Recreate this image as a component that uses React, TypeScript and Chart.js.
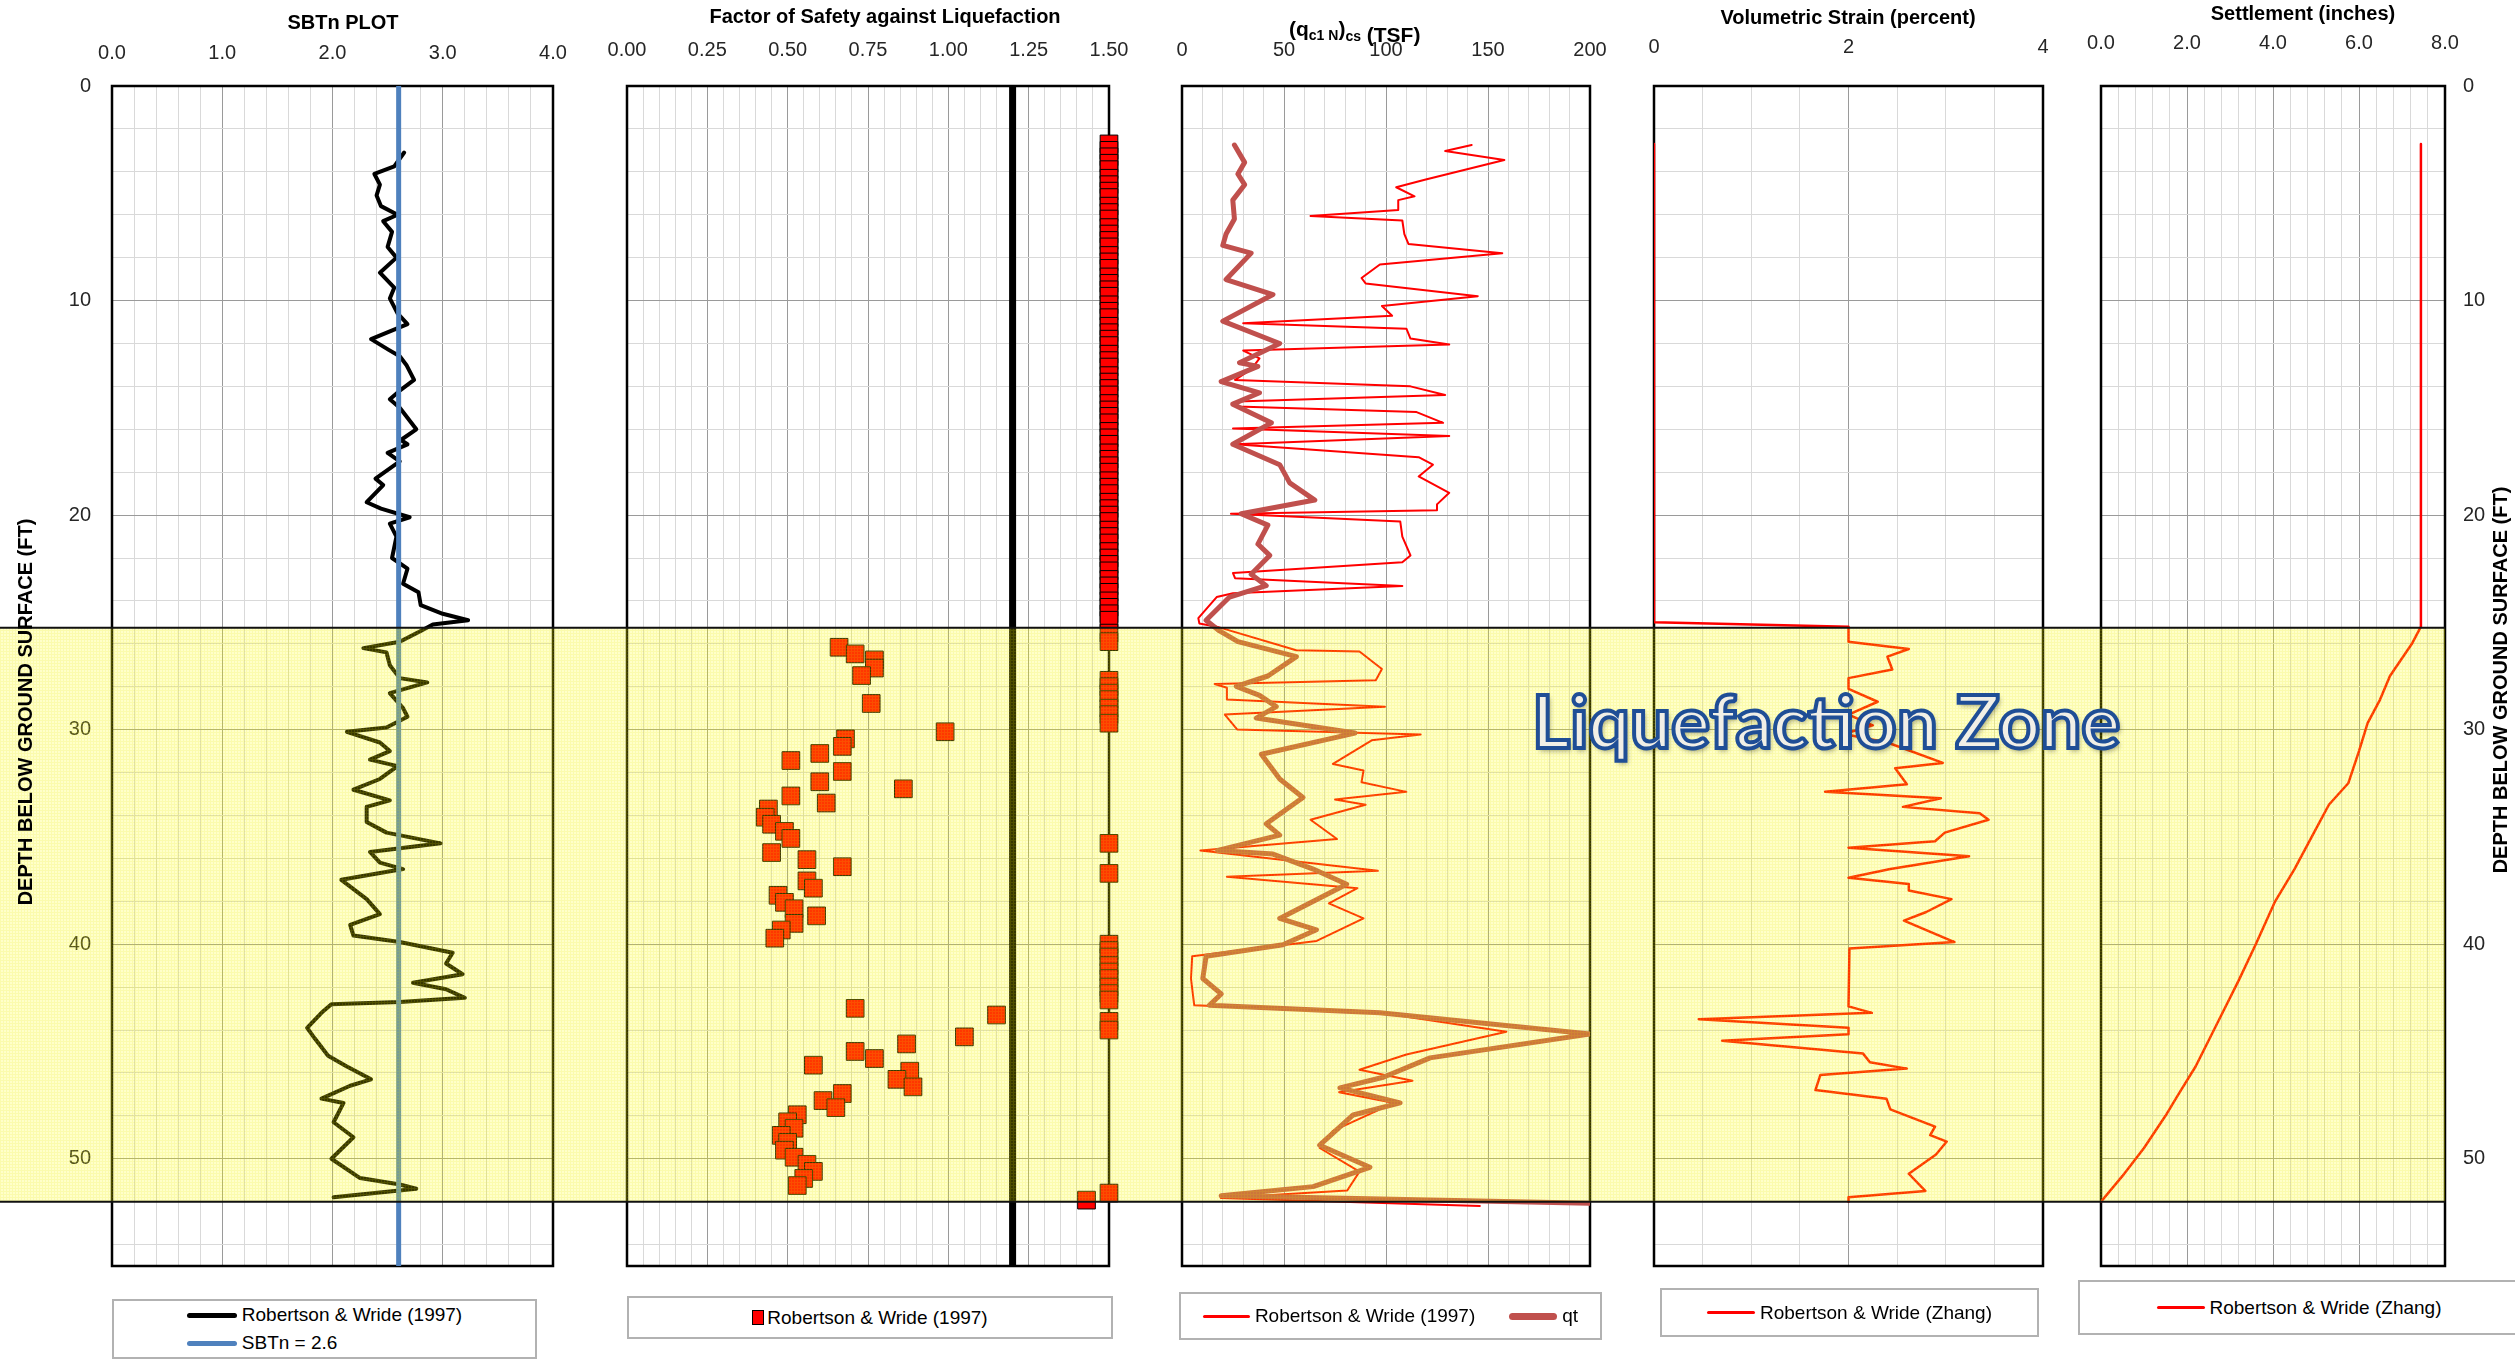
import React, { useEffect, useRef } from "react";
import { Chart, registerables } from "chart.js";

Chart.register(...registerables);

// ---------------- DATA ----------------
const DEPTH_TICKS = ["0", "10", "20", "30", "40", "50"];
const SBTN_TICKS = ["0.0", "1.0", "2.0", "3.0", "4.0"];
const FS_TICKS = ["0.00", "0.25", "0.50", "0.75", "1.00", "1.25", "1.50"];
const QC_TICKS = ["0", "50", "100", "150", "200"];
const STRAIN_TICKS = ["0", "2", "4"];
const SETTLE_TICKS = ["0.0", "2.0", "4.0", "6.0", "8.0"];

const ZONE_TOP = 25.25;
const ZONE_BOTTOM = 52.0;

const SBTN_LIMIT = 2.6;
const SBTN_DEPTH = [3.1,3.75,4.1,4.6,5.1,5.6,6.0,6.3,6.8,7.5,8.0,8.7,9.4,9.9,10.6,11.1,11.8,12.3,12.6,13.0,13.7,14.2,14.6,15.0,16.0,16.5,16.7,17.1,17.5,18.3,18.6,19.4,19.7,20.1,20.4,21.0,22.0,22.5,23.2,23.6,24.2,24.6,24.9,25.1,25.4,25.9,26.2,26.4,27.0,27.6,27.8,28.3,29.0,29.4,29.9,30.1,30.6,31.0,31.4,31.7,32.3,32.8,33.3,33.6,34.3,34.8,35.3,35.7,36.2,36.5,37.0,37.9,38.6,39.1,39.6,39.9,40.4,40.9,41.4,41.8,42.1,42.5,42.7,42.8,43.2,43.9,44.4,45.2,45.7,46.3,46.6,47.2,47.4,48.3,49.0,50.0,50.9,51.2,51.4,51.8];
const SBTN_VALUE = [2.65,2.56,2.38,2.43,2.40,2.44,2.59,2.46,2.54,2.50,2.58,2.43,2.56,2.52,2.59,2.68,2.35,2.51,2.61,2.67,2.74,2.61,2.52,2.61,2.76,2.62,2.68,2.50,2.61,2.39,2.46,2.31,2.44,2.70,2.52,2.58,2.54,2.68,2.64,2.78,2.80,3.00,3.23,2.91,2.80,2.61,2.28,2.49,2.52,2.61,2.86,2.52,2.64,2.68,2.49,2.13,2.43,2.52,2.34,2.59,2.43,2.19,2.52,2.31,2.31,2.49,2.98,2.34,2.43,2.64,2.08,2.31,2.43,2.16,2.19,2.61,3.09,3.03,3.18,2.73,3.03,3.20,2.61,1.99,1.90,1.77,1.84,1.96,2.13,2.35,2.16,1.90,2.10,2.01,2.19,1.99,2.25,2.61,2.76,2.01];

const FS_LIMIT = 1.2;
const FS_CAP_DEPTH = [2.7,3.0,3.3,3.6,3.9,4.3,4.6,4.9,5.2,5.6,5.9,6.2,6.6,6.9,7.2,7.5,7.9,8.2,8.5,8.9,9.2,9.5,9.8,10.2,10.5,10.8,11.2,11.5,11.8,12.1,12.5,12.8,13.1,13.5,13.8,14.1,14.4,14.8,15.1,15.4,15.7,16.1,16.4,16.7,17.1,17.4,17.7,18.0,18.4,18.7,19.0,19.4,19.7,20.0,20.3,20.7,21.0,21.3,21.7,22.0,22.3,22.6,23.0,23.3,23.6,24.0,24.3,24.6,24.9];
const FS_CAP_VALUE = [1.5,1.5,1.5,1.5,1.5,1.5,1.5,1.5,1.5,1.5,1.5,1.5,1.5,1.5,1.5,1.5,1.5,1.5,1.5,1.5,1.5,1.5,1.5,1.5,1.5,1.5,1.5,1.5,1.5,1.5,1.5,1.5,1.5,1.5,1.5,1.5,1.5,1.5,1.5,1.5,1.5,1.5,1.5,1.5,1.5,1.5,1.5,1.5,1.5,1.5,1.5,1.5,1.5,1.5,1.5,1.5,1.5,1.5,1.5,1.5,1.5,1.5,1.5,1.5,1.5,1.5,1.5,1.5,1.5];
const FS_ZONE_DEPTH = [25.5,25.9,26.16,26.47,26.75,27.13,27.48,27.7,28.0,28.3,28.6,28.78,29.0,29.3,29.7,30.10,30.43,30.78,31.11,31.44,31.95,32.43,32.76,33.09,33.42,33.70,34.08,34.41,34.74,35.07,35.3,35.73,36.06,36.39,36.7,37.05,37.39,37.72,38.05,38.35,38.68,39.03,39.34,39.72,40.0,40.3,40.6,41.0,41.3,41.6,42.0,42.3,42.6,42.99,43.30,43.6,44.0,44.32,44.65,45.00,45.33,45.64,45.92,46.30,46.65,46.96,47.29,47.62,47.95,48.28,48.58,48.91,49.24,49.60,49.93,50.26,50.59,50.92,51.25,51.6,51.93];
const FS_ZONE_VALUE = [1.5,1.5,0.66,0.71,0.77,0.77,0.73,1.5,1.5,1.5,1.5,0.76,1.5,1.5,1.5,0.99,0.68,0.67,0.60,0.51,0.67,0.60,0.86,0.51,0.62,0.44,0.43,0.45,0.49,0.51,1.5,0.45,0.56,0.67,1.5,0.56,0.58,0.47,0.49,0.52,0.59,0.52,0.48,0.46,1.5,1.5,1.5,1.5,1.5,1.5,1.5,1.5,1.5,0.71,1.15,1.5,1.5,1.05,0.87,0.71,0.77,0.58,0.88,0.84,0.89,0.67,0.61,0.65,0.53,0.50,0.52,0.48,0.50,0.49,0.52,0.56,0.58,0.55,0.53,1.5,1.43];

const QC_DEPTH = [2.75,3.03,3.45,4.37,4.72,5.14,5.32,5.78,6.06,6.27,6.9,7.36,7.79,8.32,8.95,9.2,9.8,10.25,10.71,11.06,11.31,11.77,12.05,12.33,12.7,13.2,13.7,14.0,14.4,14.7,14.94,15.2,15.7,15.96,16.31,16.7,17.3,17.65,18.2,18.96,19.5,19.77,19.94,20.3,21.0,21.88,22.2,22.7,22.94,23.3,23.64,23.82,24.8,25.05,25.2,26.3,26.36,27.17,27.7,27.87,28.05,28.6,28.93,29.3,29.99,30.23,30.5,31.6,31.9,32.45,32.9,33.26,33.5,34.2,35.1,35.63,36.58,36.86,37.39,38.1,38.8,39.85,40.56,41.6,42.85,43.2,44.08,45.14,45.85,46.37,46.9,47.4,48.7,49.5,50.6,51.48,51.83,52.2];
const QC_VALUE = [142,129,158,119,105,114,106,106,63,108,109,111,157,97,88,90,145,98,103,30,110,112,131,30,38,34,26,112,129,27,27,115,128,25,131,26,116,123,116,131,125,125,24,107,108,112,108,25,26,108,25,17,8,8.5,17,56,87,98,95,16,22,22,99.5,21,27,117,93,74,89,88,110,75,90,63,76,9,96,22,86,72,89,66,5,4.4,6,97,159,110,87,113,77,104,74,67.5,87,81,19,146];
const QT_DEPTH = [2.75,3.56,4.1,4.6,5.32,6.2,6.9,7.43,7.79,9.02,9.72,10.96,12.0,12.9,13.07,13.78,14.3,14.83,15.7,16.7,17.65,18.5,19.3,19.94,20.47,21.35,21.88,22.76,23.29,23.82,24.9,25.4,25.9,26.6,27.5,27.98,28.4,28.93,29.46,30.16,31.15,32.3,33.16,34.39,34.92,35.63,35.8,36.5,37.21,38.8,39.33,40.03,40.56,41.6,42.32,42.85,43.2,44.19,45.3,46.2,46.7,47.4,47.96,49.37,50.4,51.3,51.73,52.08];
const QT_VALUE = [25.7,30.7,27.4,30.7,24.9,25.7,21.6,20,33.9,21.6,44.6,20,47.9,28.2,37.2,19.2,38,24.9,43.8,24.9,47.9,52.8,65.1,29,42.1,37.2,43,33.9,41.3,23.3,11.8,18.4,27.4,56.1,42.1,26.6,38,46.2,36.4,84.8,38.9,47.9,59.3,41.3,47.9,17.5,44.6,64.3,80.7,47.9,65.9,49.5,11.8,10.2,19.2,13.4,97,200,121.6,98.7,77.4,106.9,83.9,67.5,92.1,64.3,19.2,200];

const STRAIN_DEPTH = [2.7,25.0,25.2,25.9,26.24,26.6,27.2,27.6,28.1,28.7,29.3,29.8,30.2,30.6,31.55,31.8,32.55,32.9,33.2,33.6,33.9,34.2,34.8,35.2,35.5,35.9,36.5,36.9,37.2,37.5,37.9,38.5,38.9,39.9,40.2,42.9,43.2,43.5,43.9,44.2,44.5,45.1,45.5,45.8,46.1,46.8,47.2,47.7,48.5,48.9,49.2,49.8,50.7,51.5,51.8,52.0];
const STRAIN_VALUE = [0,0,2.0,2.0,2.62,2.4,2.45,2.0,2.0,2.3,2.0,2.25,1.95,2.4,2.97,2.48,2.6,1.76,2.95,2.56,3.35,3.44,2.99,2.89,2.0,3.24,2.43,2.0,2.62,2.62,3.06,2.8,2.57,3.09,2.01,2.0,2.24,0.46,2.0,2.0,0.7,2.15,2.22,2.6,1.71,1.66,2.39,2.43,2.89,2.84,3.01,2.9,2.62,2.79,2.0,2.0];

const SETTLE_DEPTH = [2.7,25.2,26.0,27.5,28.6,29.7,31.0,32.5,33.5,35.0,36.5,38.0,40.0,41.7,43.3,44.5,45.7,47.0,48.0,49.5,50.8,52.0];
const SETTLE_VALUE = [7.44,7.44,7.23,6.72,6.49,6.2,6.0,5.75,5.3,4.9,4.5,4.05,3.6,3.2,2.8,2.5,2.2,1.8,1.5,1.0,0.5,0.0];

// ---------------- STYLE / LAYOUT ----------------
const FONT = "'Liberation Sans', Arial, Helvetica, sans-serif";
const CANVAS_H = 1290;
const PLOT_TOP = 86;
const PLOT_BOTTOM = 1266;
const MAJOR_GRID = "#9a9a9a";
const MINOR_GRID = "#d9d9d9";
const TICK_COLOR = "#262626";
const Y_TITLE = "DEPTH BELOW GROUND SURFACE (FT)";

const pts = (depth: number[], value: number[]) => depth.map((d, i) => ({ x: value[i], y: d }));
const isMult = (v: number, s: number) => Math.abs(v / s - Math.round(v / s)) < 1e-6;
const gridValues = (min: number, max: number, step: number) => {
  const out: number[] = [];
  const n = Math.round((max - min) / step);
  for (let i = 0; i <= n; i++) out.push(+(min + i * step).toFixed(6));
  return out;
};

const lineDs = (label: string, data: any[], color: string, width: number, order = 1) => ({
  label, data, showLine: true, borderColor: color, backgroundColor: color, borderWidth: width,
  pointRadius: 0, pointHoverRadius: 0, fill: false, tension: 0, borderJoinStyle: "round", borderCapStyle: "round", order,
});

type PanelCfg = {
  id: string; left: number; width: number; padL: number; padR: number;
  yPos: "left" | "right"; yW: number; yLabels: boolean; yPad: number;
  xMin: number; xMax: number; xStep: number; xMajor: number; xLabels: string[]; xPad: number;
  title?: { text: string; x: number; y: number };
  yTitle?: { x: number; y: number };
  last?: boolean; qcTitle?: boolean;
  datasets: any[];
};

const PANELS: PanelCfg[] = [
  {
    id: "sbtn", left: 0, width: 590, padL: 0, padR: 37, yPos: "left", yW: 112, yLabels: true, yPad: 21,
    xMin: 0, xMax: 4, xStep: 0.2, xMajor: 1, xLabels: SBTN_TICKS, xPad: 21,
    title: { text: "SBTn PLOT", x: 343, y: 23 }, yTitle: { x: 26, y: 712 },
    datasets: [
      lineDs("SBTn = 2.6", [{ x: SBTN_LIMIT, y: 0 }, { x: SBTN_LIMIT, y: 55 }], "#4F81BD", 5, 0),
      lineDs("Robertson & Wride (1997)", pts(SBTN_DEPTH, SBTN_VALUE), "#000000", 4, 1),
    ],
  },
  {
    id: "fs", left: 590, width: 555, padL: 37, padR: 36, yPos: "left", yW: 0, yLabels: false, yPad: 0,
    xMin: 0, xMax: 1.5, xStep: 0.05, xMajor: 0.25, xLabels: FS_TICKS, xPad: 24,
    title: { text: "Factor of Safety against Liquefaction", x: 885, y: 17 },
    datasets: [
      lineDs("FS = 1.2", [{ x: FS_LIMIT, y: 0 }, { x: FS_LIMIT, y: 55 }], "#000000", 7, 2),
      {
        label: "Robertson & Wride (1997)",
        data: [...pts(FS_CAP_DEPTH, FS_CAP_VALUE), ...pts(FS_ZONE_DEPTH, FS_ZONE_VALUE)],
        showLine: false, pointStyle: "rect", pointRadius: 12.5, pointHoverRadius: 12.5,
        backgroundColor: "#FF0000", borderColor: "#000000", borderWidth: 1, order: 0, clip: false,
      },
    ],
  },
  {
    id: "qc", left: 1145, width: 477, padL: 37, padR: 32, yPos: "left", yW: 0, yLabels: false, yPad: 0,
    xMin: 0, xMax: 200, xStep: 10, xMajor: 50, xLabels: QC_TICKS, xPad: 24,
    qcTitle: true,
    datasets: [
      lineDs("qt", pts(QT_DEPTH, QT_VALUE), "#C0504D", 5, 0),
      lineDs("Robertson & Wride (1997)", pts(QC_DEPTH, QC_VALUE), "#FF0000", 2, 1),
    ],
  },
  {
    id: "strain", left: 1622, width: 450, padL: 32, padR: 29, yPos: "left", yW: 0, yLabels: false, yPad: 0,
    xMin: 0, xMax: 4, xStep: 0.5, xMajor: 2, xLabels: STRAIN_TICKS, xPad: 27,
    title: { text: "Volumetric Strain (percent)", x: 1848, y: 18 },
    datasets: [lineDs("Robertson & Wride (Zhang)", pts(STRAIN_DEPTH, STRAIN_VALUE), "#FF0000", 2.5, 0)],
  },
  {
    id: "settle", left: 2072, width: 443, padL: 29, padR: 0, yPos: "right", yW: 70, yLabels: true, yPad: 18,
    xMin: 0, xMax: 8, xStep: 0.4, xMajor: 2, xLabels: SETTLE_TICKS, xPad: 31,
    title: { text: "Settlement (inches)", x: 2303, y: 14 }, yTitle: { x: 2501, y: 680 }, last: true,
    datasets: [lineDs("Robertson & Wride (Zhang)", pts(SETTLE_DEPTH, SETTLE_VALUE), "#FF0000", 2.5, 0)],
  },
];

function makePattern(ctx: CanvasRenderingContext2D) {
  const c = document.createElement("canvas");
  c.width = 3; c.height = 3;
  const p = c.getContext("2d")!;
  p.fillStyle = "rgba(255,255,0,0.21)";
  p.fillRect(0, 0, 3, 3);
  p.fillStyle = "rgba(230,230,0,0.14)";
  p.fillRect(0, 0, 3, 1);
  p.fillRect(0, 1, 1, 2);
  return ctx.createPattern(c, "repeat")!;
}

function noScalePadding(s: any) {
  s.paddingLeft = 0; s.paddingRight = 0; s.paddingTop = 0; s.paddingBottom = 0;
}

function buildConfig(cfg: PanelCfg): any {
  const tickFont = { family: FONT, size: 20 };
  const framePlugin = {
    id: "frame",
    beforeDatasetsDraw(chart: any) {
      const { ctx, chartArea: a } = chart;
      ctx.save();
      ctx.strokeStyle = "#000";
      ctx.lineWidth = 2.5;
      ctx.strokeRect(a.left, a.top, a.right - a.left, a.bottom - a.top);
      ctx.restore();
    },
  };
  const bandPlugin = {
    id: "zone",
    afterDatasetsDraw(chart: any) {
      const { ctx, chartArea } = chart;
      const y = chart.scales.y;
      const t = y.getPixelForValue(ZONE_TOP);
      const b = y.getPixelForValue(ZONE_BOTTOM);
      const x1 = cfg.last ? chartArea.right : chart.width;
      ctx.save();
      ctx.fillStyle = makePattern(ctx);
      ctx.fillRect(0, t, x1, b - t);
      ctx.strokeStyle = "#111";
      ctx.lineWidth = 2;
      ctx.beginPath();
      ctx.moveTo(0, t); ctx.lineTo(x1, t);
      ctx.moveTo(0, b); ctx.lineTo(x1, b);
      ctx.stroke();
      ctx.restore();
    },
  };
  const textPlugin = {
    id: "texts",
    afterDraw(chart: any) {
      const ctx: CanvasRenderingContext2D = chart.ctx;
      ctx.save();
      ctx.fillStyle = "#000";
      if (cfg.title) {
        ctx.font = `bold 20px ${FONT}`;
        ctx.textAlign = "center";
        ctx.textBaseline = "middle";
        ctx.fillText(cfg.title.text, cfg.title.x - cfg.left, cfg.title.y);
      }
      if (cfg.qcTitle) {
        const parts: [string, number, number][] = [
          ["(q", 21, 36], ["c1 N", 14, 40], [")", 21, 36], ["cs", 14, 41], [" (TSF)", 21, 42],
        ];
        let x = 1289 - cfg.left;
        ctx.textAlign = "left";
        ctx.textBaseline = "alphabetic";
        for (const [s, size, base] of parts) {
          ctx.font = `bold ${size}px ${FONT}`;
          ctx.fillText(s, x, base);
          x += ctx.measureText(s).width;
        }
      }
      if (cfg.yTitle) {
        ctx.translate(cfg.yTitle.x - cfg.left, cfg.yTitle.y);
        ctx.rotate(-Math.PI / 2);
        ctx.font = `bold 20px ${FONT}`;
        ctx.textAlign = "center";
        ctx.textBaseline = "middle";
        ctx.fillText(Y_TITLE, 0, 0);
      }
      ctx.restore();
    },
  };

  const xGrid = gridValues(cfg.xMin, cfg.xMax, cfg.xStep);
  const yGrid = gridValues(0, 54, 2);

  return {
    type: "scatter",
    data: { datasets: cfg.datasets },
    options: {
      animation: false,
      responsive: false,
      maintainAspectRatio: false,
      events: [],
      layout: { padding: { left: cfg.padL, right: cfg.padR, top: 0, bottom: CANVAS_H - PLOT_BOTTOM } },
      plugins: { legend: { display: false }, tooltip: { enabled: false }, title: { display: false } },
      scales: {
        x: {
          type: "linear", position: "top", min: cfg.xMin, max: cfg.xMax,
          afterBuildTicks: (s: any) => { s.ticks = xGrid.map((v) => ({ value: v })); },
          afterFit: (s: any) => { s.height = PLOT_TOP; noScalePadding(s); },
          ticks: {
            autoSkip: false, maxRotation: 0, minRotation: 0, padding: cfg.xPad, font: tickFont, color: TICK_COLOR,
            callback: (v: number) => (isMult(v, cfg.xMajor) ? cfg.xLabels[Math.round(v / cfg.xMajor)] : ""),
          },
          grid: {
            drawTicks: false, lineWidth: 1,
            color: (c: any) => (c.tick && isMult(c.tick.value, cfg.xMajor) ? MAJOR_GRID : MINOR_GRID),
          },
          border: { display: false },
        },
        y: {
          type: "linear", position: cfg.yPos, reverse: true, min: 0, max: 55,
          afterBuildTicks: (s: any) => { s.ticks = yGrid.map((v) => ({ value: v })); },
          afterFit: (s: any) => { s.width = cfg.yW; noScalePadding(s); },
          ticks: {
            display: cfg.yLabels, autoSkip: false, padding: cfg.yPad, font: tickFont, color: TICK_COLOR,
            callback: (v: number) => (isMult(v, 10) ? DEPTH_TICKS[Math.round(v / 10)] : ""),
          },
          grid: {
            drawTicks: false, lineWidth: 1,
            color: (c: any) => (c.tick && isMult(c.tick.value, 10) ? MAJOR_GRID : MINOR_GRID),
          },
          border: { display: false },
        },
      },
    },
    plugins: [framePlugin, bandPlugin, textPlugin],
  };
}

function Panel({ cfg }: { cfg: PanelCfg }) {
  const ref = useRef<HTMLCanvasElement>(null);
  useEffect(() => {
    const chart = new Chart(ref.current!, buildConfig(cfg));
    return () => chart.destroy();
  }, [cfg]);
  return (
    <canvas
      ref={ref}
      width={cfg.width}
      height={CANVAS_H}
      style={{ position: "absolute", left: cfg.left, top: 0, width: cfg.width, height: CANVAS_H }}
    />
  );
}

const lineSample = (color: string, thick: number, w = 50): React.CSSProperties => ({
  display: "inline-block", width: w, height: thick, background: color, borderRadius: thick / 2, marginRight: 5,
});

function LegendBox({ left, top, width, height, children }: any) {
  return (
    <div
      style={{
        position: "absolute", left, top, width, height, boxSizing: "border-box", border: "2px solid #b2b2b2",
        background: "#fff", display: "flex", alignItems: "center", justifyContent: "center",
        fontFamily: FONT, fontSize: 19, color: "#000", whiteSpace: "nowrap",
      }}
    >
      {children}
    </div>
  );
}

const row: React.CSSProperties = { display: "flex", alignItems: "center", height: 28 };

export default function App() {
  return (
    <div style={{ position: "fixed", left: 0, top: 0, width: 2515, height: 1362, overflow: "hidden", background: "#fff" }}>
      {PANELS.map((p) => (
        <Panel key={p.id} cfg={p} />
      ))}

      <div
        style={{
          position: "absolute", left: 1532, top: 684, fontFamily: "Lato, 'Open Sans', sans-serif", fontWeight: 700,
          fontSize: 73, lineHeight: 1, color: "#F1EFE6", WebkitTextStroke: "4px #1F4E96", whiteSpace: "nowrap",
          textShadow: "2px 3px 5px rgba(0,0,0,0.35)",
        }}
      >
        Liquefaction Zone
      </div>

      <LegendBox left={112} top={1299} width={425} height={60}>
        <div style={{ display: "flex", flexDirection: "column", alignItems: "flex-start" }}>
          <div style={row}><span style={lineSample("#000", 5)} />Robertson &amp; Wride (1997)</div>
          <div style={row}><span style={lineSample("#4F81BD", 5)} />SBTn = 2.6</div>
        </div>
      </LegendBox>
      <LegendBox left={627} top={1296} width={486} height={43}>
        <div style={row}>
          <span style={{ display: "inline-block", width: 10, height: 13, background: "#FF0000", border: "1.5px solid #000", marginRight: 3 }} />
          Robertson &amp; Wride (1997)
        </div>
      </LegendBox>
      <LegendBox left={1179} top={1292} width={423} height={48}>
        <div style={row}><span style={lineSample("#FF0000", 3, 47)} />Robertson &amp; Wride (1997)</div>
        <div style={{ ...row, marginLeft: 34 }}><span style={lineSample("#C0504D", 7, 48)} />qt</div>
      </LegendBox>
      <LegendBox left={1660} top={1288} width={379} height={49}>
        <div style={row}><span style={lineSample("#FF0000", 3, 48)} />Robertson &amp; Wride (Zhang)</div>
      </LegendBox>
      <LegendBox left={2078} top={1280} width={442} height={55}>
        <div style={row}><span style={lineSample("#FF0000", 3, 48)} />Robertson &amp; Wride (Zhang)</div>
      </LegendBox>
    </div>
  );
}
